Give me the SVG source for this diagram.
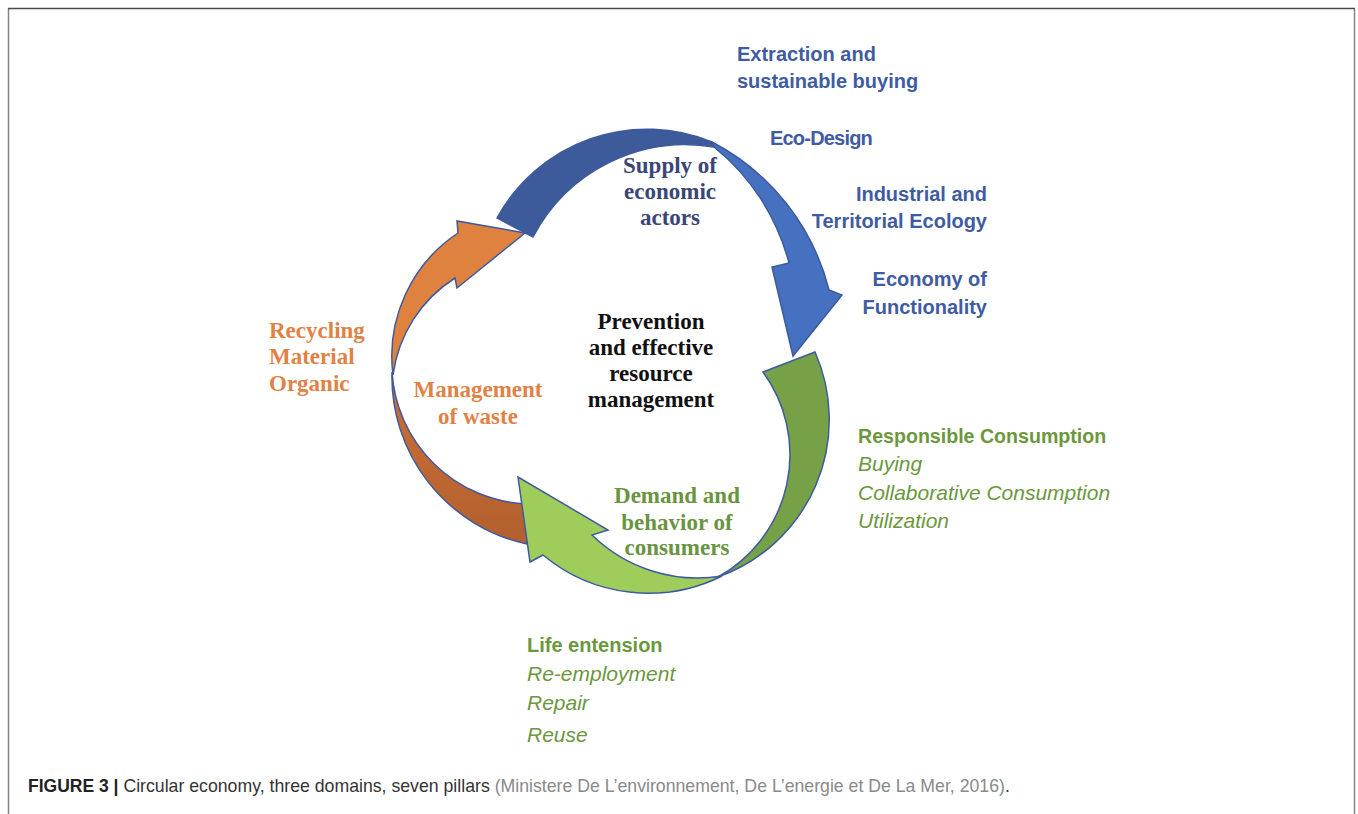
<svg xmlns="http://www.w3.org/2000/svg" width="1358" height="814" viewBox="0 0 1358 814">
<style>
.serif{font-family:"Liberation Serif","Times New Roman",serif;font-weight:bold;font-size:23px;text-anchor:middle}
.sans{font-family:"Liberation Sans",Arial,sans-serif;font-size:20px}
.b{font-weight:bold}
.i{font-style:italic;font-size:21px}
.blue{fill:#3f5ca3}
.green{fill:#6b973d}
.arrow{stroke:#3d5a9e;stroke-width:1.5;stroke-linejoin:miter}
.cap{font-family:"Liberation Sans",Arial,sans-serif;font-size:17.7px;fill:#333}
</style>
<defs>
<linearGradient id="brownGrad" x1="0" y1="0" x2="0" y2="1">
<stop offset="0" stop-color="#cf6f37"/>
<stop offset="1" stop-color="#b2602e"/>
</linearGradient>
</defs>
<rect x="0" y="0" width="1358" height="814" fill="#fff"/>
<g id="frame">
<line x1="8.5" y1="8.5" x2="8.5" y2="814" stroke="#858585" stroke-width="1.5"/>
<line x1="1354.5" y1="8.5" x2="1354.5" y2="814" stroke="#858585" stroke-width="1.5"/>
<line x1="8" y1="8.5" x2="1355" y2="8.5" stroke="#4a4a4a" stroke-width="1.5"/>
</g>
<g id="connectors">
<path id="arrow-waste-lower" class="arrow" fill="url(#brownGrad)" d="M 392,372 A 171 171 0 0 0 527,544 L 527,504 A 141 141 0 0 1 392,372 Z"/>
<path id="arrow-waste-upper" class="arrow" fill="#e0823f" d="M 393,375 A 148 148 0 0 1 458,233 L 457,221 L 525,233 L 457,288 L 455,278 A 136 136 0 0 0 393,375 Z"/>
<path id="arrow-supply-back" class="arrow" fill="#3d5a9a" d="M 497,218 A 171 171 0 0 1 712,142 L 714,147 A 172 172 0 0 0 533,237 Z"/>
<path id="arrow-supply-front" class="arrow" fill="#4670c0" d="M 712,142 A 230 230 0 0 1 829,290 L 842,295 L 793,356 L 772,267 L 789,263 A 220 220 0 0 0 714,147 Z"/>
<path id="arrow-demand-dark" class="arrow" fill="#77a147" d="M 763,372 L 815,352 A 167 167 0 0 1 718,577 A 140 140 0 0 0 763,372 Z"/>
<path id="arrow-demand-light" class="arrow" fill="#9fcd5b" d="M 722,576 A 151 151 0 0 1 592,535 L 608,530 L 518,477 L 530,562 L 543,555 A 165 165 0 0 0 722,576 Z"/>
</g>
<g id="node-center">
<text class="serif" fill="#111"><tspan x="651" y="329">Prevention</tspan><tspan x="651" y="355">and effective</tspan><tspan x="651" y="381">resource</tspan><tspan x="651" y="407">management</tspan></text>
</g>
<g id="node-supply">
<text class="serif" fill="#3a4676"><tspan x="670" y="173">Supply of</tspan><tspan x="670" y="199">economic</tspan><tspan x="670" y="225">actors</tspan></text>
</g>
<g id="node-waste">
<text class="serif" fill="#e08246"><tspan x="478" y="397">Management</tspan><tspan x="478" y="424">of waste</tspan></text>
</g>
<g id="node-demand">
<text class="serif" fill="#6a9440"><tspan x="677" y="503">Demand and</tspan><tspan x="677" y="530">behavior of</tspan><tspan x="677" y="555">consumers</tspan></text>
</g>
<g id="node-recycling">
<text class="serif" fill="#e08246" style="text-anchor:start"><tspan x="269" y="338">Recycling</tspan><tspan x="269" y="364">Material</tspan><tspan x="269" y="391">Organic</tspan></text>
</g>
<g id="node-extraction">
<text class="sans b blue"><tspan x="737" y="61">Extraction and</tspan><tspan x="737" y="88">sustainable buying</tspan></text>
</g>
<g id="node-ecodesign">
<text class="sans b blue" x="770" y="145" letter-spacing="-0.8">Eco-Design</text>
</g>
<g id="node-industrial">
<text class="sans b blue" style="text-anchor:end"><tspan x="987" y="201">Industrial and</tspan><tspan x="987" y="228">Territorial Ecology</tspan></text>
</g>
<g id="node-economy">
<text class="sans b blue" style="text-anchor:end"><tspan x="987" y="286">Economy of</tspan><tspan x="987" y="314">Functionality</tspan></text>
</g>
<g id="node-responsible">
<text class="sans b green" x="858" y="443" style="font-size:19.6px">Responsible Consumption</text>
<text class="sans i green"><tspan x="858" y="471">Buying</tspan><tspan x="858" y="500">Collaborative Consumption</tspan><tspan x="858" y="528">Utilization</tspan></text>
</g>
<g id="node-life">
<text class="sans b green" x="527" y="652">Life entension</text>
<text class="sans i green"><tspan x="527" y="681">Re-employment</tspan><tspan x="527" y="710">Repair</tspan><tspan x="527" y="742">Reuse</tspan></text>
</g>
<g id="caption">
<text class="cap" x="28" y="792"><tspan font-weight="bold" fill="#222" font-size="17.5">FIGURE 3 |</tspan> Circular economy, three domains, seven pillars <tspan fill="#8a8a8a">(Ministere De L’environnement, De L’energie et De La Mer, 2016)</tspan>.</text>
</g>
</svg>
